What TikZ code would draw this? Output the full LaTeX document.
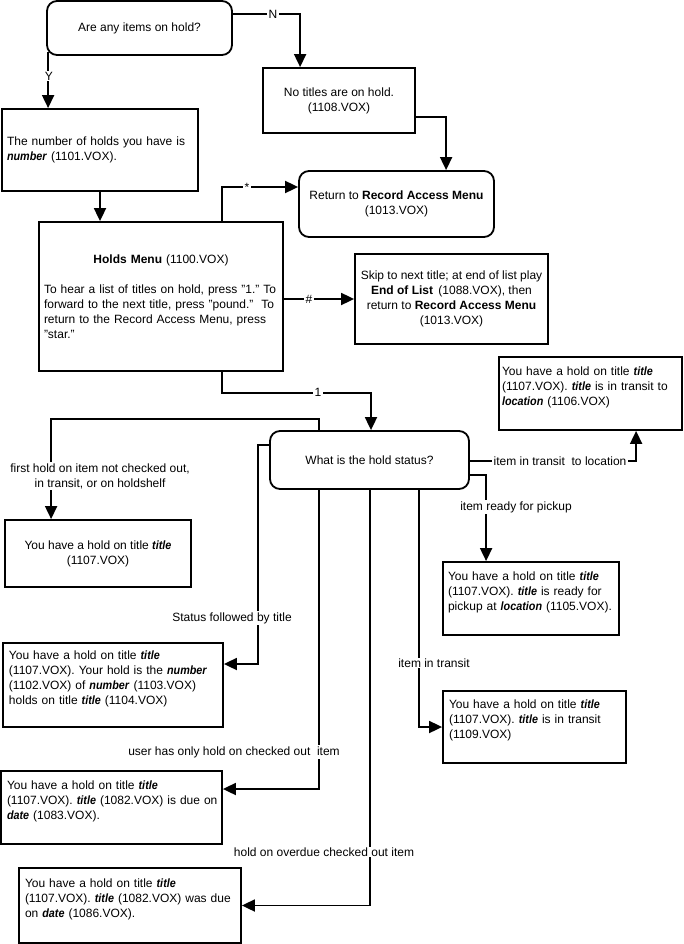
\documentclass[tikz,border=0pt]{standalone}
\usepackage{fontspec}
\setmainfont{Liberation Sans}[BoldItalicFeatures={FakeStretch=0.9}]
\usetikzlibrary{arrows.meta,calc}
\newcommand\bi[1]{\textbf{\textit{#1}}}
\newcommand\hb[1]{\mbox{#1}}
\begin{document}
\begin{tikzpicture}[x=1pt,y=-1pt,
  font=\fontsize{12}{15}\selectfont,
  line width=1.8pt,
  arr/.style={-{Triangle[length=13pt,width=12pt]}, line width=1.8pt},
  cbox/.style={draw, inner xsep=4pt, inner ysep=0pt, align=center},
  lbox/.style={draw, inner xsep=5pt, inner ysep=0pt, align=left},
  rbox/.style={cbox, rounded corners=10pt},
  lab/.style={fill=white, inner xsep=2pt, inner ysep=1pt, align=center}
]
\useasboundingbox (0,0) rectangle (683,944);
% boxes
\node[rbox, minimum width=185pt, minimum height=54pt] (d1) at (139.5,28) {Are any items on hold?};
\node[cbox, minimum width=152pt, minimum height=65pt] (notitles) at (339,100.5) {No titles are on hold.\\(1108.VOX)};
\node[lbox, minimum width=196pt, minimum height=82pt, text width=186pt] (number) at (100,150) {\hb{The number of holds you have is}\\\hb{\bi{number} (1101.VOX).}};
\node[rbox, minimum width=195pt, minimum height=66pt] (ret) at (396.5,204) {Return to \textbf{Record Access Menu}\\(1013.VOX)};
\node[lbox, minimum width=244pt, minimum height=149pt, text width=234pt] (holds) at (161,296.5) {\makebox[\linewidth][c]{\textbf{Holds Menu} (1100.VOX)}\\\mbox{}\\\hb{To hear a list of titles on hold, press "1." To}\\\hb{forward to the next title, press "pound."\ \ To}\\\hb{return to the Record Access Menu, press}\\"star."};
\node[cbox, minimum width=193pt, minimum height=90pt] (skip) at (451.5,299) {Skip to next title; at end of list play\\\textbf{End of List} \,(1088.VOX), then\\return to \textbf{Record Access Menu}\\(1013.VOX)};
\node[lbox, inner xsep=3pt, minimum width=183pt, minimum height=73pt, text width=177pt] (loc) at (590.5,393.5) {\hb{You have a hold on title \bi{title}}\\\hb{(1107.VOX). \bi{title} is in transit to}\\\hb{\bi{location} (1106.VOX)}\\\mbox{}};
\node[rbox, minimum width=199pt, minimum height=58pt] (d2) at (369.5,460) {What is the hold status?};
\node[cbox, minimum width=186pt, minimum height=67pt] (first) at (98,553.5) {You have a hold on title \bi{title}\\(1107.VOX)};
\node[lbox, minimum width=176pt, minimum height=73pt, text width=166pt] (ready) at (531,598.5) {\hb{You have a hold on title \bi{title}}\\\hb{(1107.VOX). \bi{title} is ready for}\\\hb{pickup at \bi{location} (1105.VOX).}\\\mbox{}};
\node[lbox, inner xsep=6pt, minimum width=220pt, minimum height=84pt, text width=208pt] (status) at (113,685) {\hb{You have a hold on title \bi{title}}\\\hb{(1107.VOX). Your hold is the \bi{number}}\\\hb{(1102.VOX) of \bi{number} (1103.VOX)}\\\hb{holds on title \bi{title} (1104.VOX)}\\\mbox{}};
\node[lbox, inner xsep=6pt, minimum width=183pt, minimum height=72pt, text width=171pt] (transit) at (534.5,727) {\hb{You have a hold on title \bi{title}}\\\hb{(1107.VOX). \bi{title} is in transit}\\(1109.VOX)\\\mbox{}};
\node[lbox, inner xsep=6pt, minimum width=221pt, minimum height=73pt, text width=209pt] (due) at (111.5,807.5) {\hb{You have a hold on title \bi{title}}\\\hb{(1107.VOX). \bi{title} (1082.VOX) is due on}\\\hb{\bi{date} (1083.VOX).}\\\mbox{}};
\node[lbox, inner xsep=6pt, minimum width=222pt, minimum height=75pt, text width=210pt] (overdue) at (130,905.5) {\hb{You have a hold on title \bi{title}}\\\hb{(1107.VOX). \bi{title} (1082.VOX) was due}\\\hb{on \bi{date} (1086.VOX).}\\\mbox{}};
% connectors
\draw[arr] ([yshift=14pt]d1.east) -| ([xshift=38pt]notitles.north west);
\draw[arr] ([xshift=2pt,yshift=4pt]d1.south west) coordinate (ys) -- (ys |- number.north);
\draw[arr] (number.south) -- (number.south |- holds.north);
\draw[arr] ([xshift=184pt]holds.north west) |- ([yshift=17pt]ret.west);
\draw[arr] ([yshift=-16.5pt]notitles.east) -| ([xshift=148pt]ret.north west);
\draw[arr] (holds.east |- skip.west) -- (skip.west);
\draw[arr] ([xshift=184pt]holds.south west) -- ++(0,21) -| ([xshift=1.5pt]d2.north);
\draw[arr] ([xshift=50pt]d2.north west) -- ++(0,-11) -| ([xshift=47pt]first.north west);
\draw[arr] ([yshift=15pt]d2.west) -- ++(-11,0) |- ([yshift=21pt]status.east);
\draw[arr] ([xshift=50pt]d2.south west) |- ([yshift=18.5pt]due.east);
\draw[arr] ([xshift=101pt]d2.south west) |- (overdue.east);
\draw[arr] ([xshift=150pt]d2.south west) |- (transit.west);
\draw[arr] ([yshift=-15pt]d2.east) -| ([xshift=44pt]ready.north west);
\draw[arr] ([yshift=-1pt]d2.east) -| ([xshift=138pt]loc.south west);
% labels
\node[lab] (lN) at (273,14) {N};
\node[lab] (lY) at (49,76) {Y};
\node[lab] (lstar) at (247,187) {*};
\node[lab] (lhash) at (309,299) {\#};
\node[lab] (l1) at (318,392) {1};
\node[lab] (lfirst) at (100,476) {first hold on item not checked out,\\in transit, or on holdshelf};
\node[lab] (lstatus) at (232,618) {Status followed by title};
\node[lab] (luser) at (234,752) {user has only hold on checked out \ item};
\node[lab] (lover) at (324,852) {hold on overdue checked out item};
\node[lab] (ltransit) at (434,663) {item in transit};
\node[lab] (lready) at (516,507) {item ready for pickup};
\node[lab] (lloc) at (560,461) {item in transit \ to location};
\end{tikzpicture}
\end{document}
